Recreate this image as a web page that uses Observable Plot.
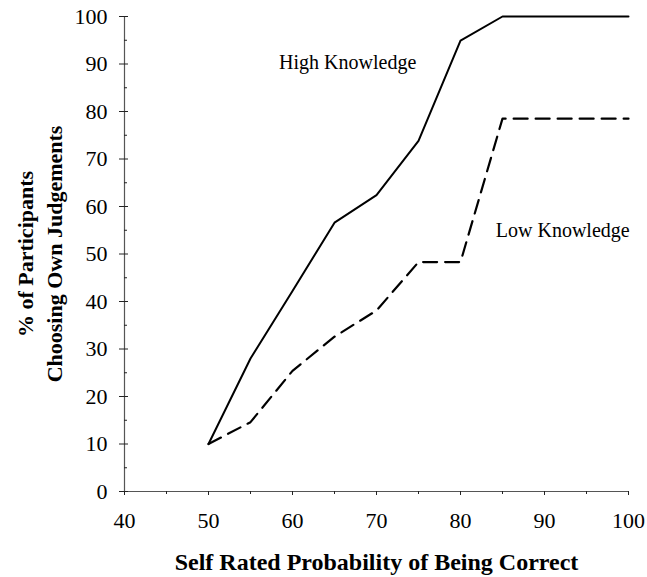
<!DOCTYPE html>
<html>
<head>
<meta charset="utf-8">
<script src="https://cdn.jsdelivr.net/npm/d3@7"></script>
<script src="https://cdn.jsdelivr.net/npm/@observablehq/plot@0.6"></script>
<style>
  html, body { margin: 0; padding: 0; background: white; }
</style>
</head>
<body>
<div id="chart"></div>
<script>
const selfRated = [50, 55, 60, 65, 70, 75, 80, 85, 90, 95, 100];
const highKnowledge = [10, 28, 42.2, 56.6, 62.4, 73.8, 94.9, 100, 100, 100, 100];
const lowKnowledge = [10, 14.6, 25.4, 32.6, 38.1, 48.3, 48.3, 78.5, 78.5, 78.5, 78.5];
const xMajorTicks = [40, 50, 60, 70, 80, 90, 100];
const xMinorTicks = [45, 55, 65, 75, 85, 95];
const yMajorTicks = [0, 10, 20, 30, 40, 50, 60, 70, 80, 90, 100];
const yMinorTicks = [5, 15, 25, 35, 45, 55, 65, 75, 85, 95];
const seriesLabels = ["High Knowledge", "Low Knowledge"];
const labelX = [58.4, 84.2];
const labelY = [90.4, 54.9];
const xTitle = "Self Rated Probability of Being Correct";
const yTitle = "% of Participants\nChoosing Own Judgements";

const highData = selfRated.map((x, i) => ({x, y: highKnowledge[i]}));
const lowData = selfRated.map((x, i) => ({x, y: lowKnowledge[i]}));
const annotations = seriesLabels.map((label, i) => ({label, x: labelX[i], y: labelY[i]}));

const serif = "'Liberation Serif', 'Times New Roman', Times, serif";
const blank = () => "";

const chart = Plot.plot({
  width: 647,
  height: 577,
  marginTop: 16,
  marginBottom: 86,
  marginLeft: 124,
  marginRight: 19,
  x: {domain: [40, 100]},
  y: {domain: [0, 100]},
  style: {fontFamily: serif, background: "white", color: "black", overflow: "visible"},
  marks: [
    Plot.ruleY([0], {stroke: "#555", strokeWidth: 1.2}),
    Plot.ruleX([40], {stroke: "#555", strokeWidth: 1.2}),
    Plot.axisX({ticks: xMajorTicks, tickSize: 4, tickFormat: blank, label: null, stroke: "#222"}),
    Plot.axisX({ticks: xMinorTicks, tickSize: 3, tickFormat: blank, label: null, stroke: "#222"}),
    Plot.axisX({ticks: xMajorTicks, tickSize: 0, tickPadding: 21, fontSize: 22, label: null}),
    Plot.axisY({ticks: yMajorTicks, tickSize: 9, dx: 4, tickFormat: blank, label: null, stroke: "#222"}),
    Plot.axisY({ticks: yMinorTicks, tickSize: 3, dx: 3, tickFormat: blank, label: null, stroke: "#222"}),
    Plot.axisY({ticks: yMajorTicks, tickSize: 0, tickPadding: 17, fontSize: 22, label: null}),
    Plot.line(highData, {x: "x", y: "y", stroke: "black", strokeWidth: 2}),
    Plot.line(lowData, {x: "x", y: "y", stroke: "black", strokeWidth: 2.2, strokeDasharray: "14,8"}),
    Plot.text(annotations, {x: "x", y: "y", text: "label", textAnchor: "start", fontSize: 20}),
    Plot.text([xTitle], {frameAnchor: "bottom", dy: 71, fontSize: 24, fontWeight: "bold", lineAnchor: "middle"}),
    Plot.text([yTitle], {frameAnchor: "left", rotate: -90, dx: -86, fontSize: 22, fontWeight: "bold", lineHeight: 1.29, lineAnchor: "middle", textAnchor: "middle"})
  ]
});
document.getElementById("chart").appendChild(chart);
</script>
</body>
</html>
